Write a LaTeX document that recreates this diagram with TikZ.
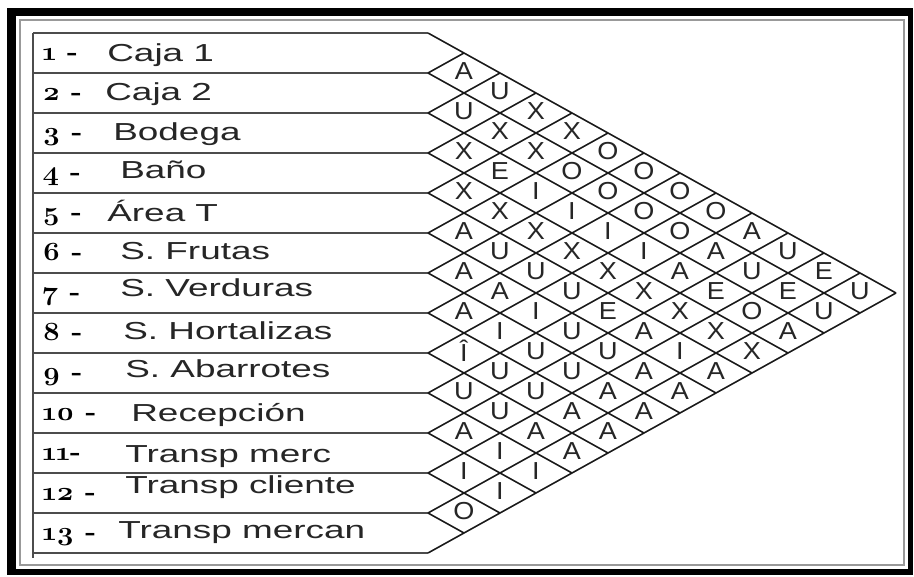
\documentclass[tikz,border=0pt]{standalone}
\usepackage{fontspec}
\setmainfont{Liberation Sans}
\newfontfamily\areafont{Liberation Sans}[FakeStretch=1.5]
\newfontfamily\relfont{Liberation Sans}[FakeStretch=1.1]
\newfontfamily\nrfont{Latin Modern Roman}[Numbers=OldStyle,FakeStretch=1.1]
\usepackage{tikz}
\usetikzlibrary{calc}

\begin{document}
\begin{tikzpicture}[x=0.02cm, y=-0.02cm,
        rowline/.style={draw=black!70, line width=1.1pt},
        diag/.style={draw=black!90, line width=0.9pt},
        areanr/.style={anchor=base west, inner sep=0pt, font=\nrfont\bfseries\fontsize{15}{17}\selectfont},
        area/.style={anchor=base west, inner sep=0pt, text=black!85, font=\areafont\fontsize{14}{16}\selectfont},
        rel/.style={inner sep=0pt, text=black!85, font=\relfont\fontsize{14}{16}\selectfont}]

        % frame
        \useasboundingbox (0,0) rectangle (914,576);
        \fill[black] (7,8) rectangle (913,575);
        \fill[white] (16,16) rectangle (908,569);
        \draw[black!40, line width=0.6pt] (20,20) rectangle (904,565);

        % rows of the areas
        \draw[rowline] (33,33) -- (33,558);
        \foreach \m in {0,...,13}{
            \coordinate (B\m) at (33,33+40*\m);
            \coordinate (L\m) at (428,33+40*\m);
            \draw[rowline] (B\m) -- (L\m);
        }

        % diamond grid
        \foreach \m in {0,...,12}
            \draw[diag] (L\m) -- ++({36*(13-\m)},{20*(13-\m)});
        \foreach \m in {1,...,13}
            \draw[diag] (L\m) -- ++({36*\m},{-20*\m});

        % area names
        \foreach \i/\nr/\xx/\dy/\txt in {1/1 -/107/8/Caja 1, 2/2 -/105/7/Caja 2,
                3/3 -/113/7/Bodega, 4/4 -/120/5/Baño, 5/5 -/107/8/Área T,
                6/6 -/120/6/S. Frutas, 7/7 -/120/3/S. Verduras,
                8/8 -/123/6/S. Hortalizas, 9/9 -/125/4/S. Abarrotes,
                10/10 -/131/8/Recepción, 11/11-/125/9/Transp merc,
                12/12 -/125/0/Transp cliente, 13/13 -/118/5/Transp mercan}{
            \node[areanr] (n\i) at (42,{13+40*\i+7}) {\nr};
            \node[area] (a\i) at (\xx,{13+40*\i+\dy}) {\txt};
        }

        % relationships
        \foreach \i/\j/\r in {1/2/A, 2/3/U, 3/4/X, 4/5/X, 5/6/A, 6/7/A, 7/8/A, 8/9/Î,
                9/10/U, 10/11/A, 11/12/I, 12/13/O,
                1/3/U, 2/4/X, 3/5/E, 4/6/X, 5/7/U, 6/8/A, 7/9/I, 8/10/U, 9/11/U, 10/12/I, 11/13/I,
                1/4/X, 2/5/X, 3/6/I, 4/7/X, 5/8/U, 6/9/I, 7/10/U, 8/11/U, 9/12/A, 10/13/I,
                1/5/X, 2/6/O, 3/7/I, 4/8/X, 5/9/U, 6/10/U, 7/11/U, 8/12/A, 9/13/A,
                1/6/O, 2/7/O, 3/8/I, 4/9/X, 5/10/E, 6/11/U, 7/12/A, 8/13/A,
                1/7/O, 2/8/O, 3/9/I, 4/10/X, 5/11/A, 6/12/A, 7/13/A,
                1/8/O, 2/9/O, 3/10/A, 4/11/X, 5/12/I, 6/13/A,
                1/9/O, 2/10/A, 3/11/E, 4/12/X, 5/13/A,
                1/10/A, 2/11/U, 3/12/O, 4/13/X,
                1/11/U, 2/12/E, 3/13/A,
                1/12/E, 2/13/U,
                1/13/U}
            \node[rel] (p\i-\j) at ({428+36*(\j-\i)},{11+20*(\i+\j)}) {\r};

    \end{tikzpicture}
\end{document}
